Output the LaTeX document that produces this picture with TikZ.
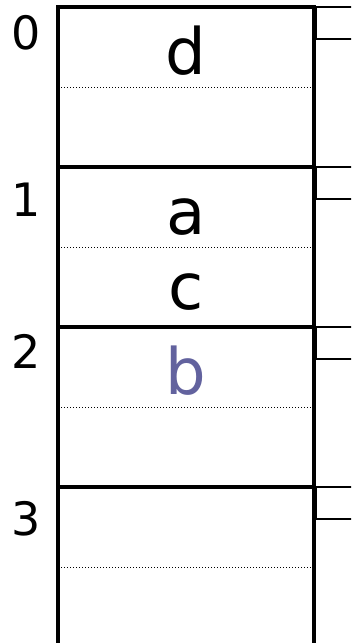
\documentclass[tikz,border=0pt]{standalone}
\usepackage{fontspec}
\setmainfont{DejaVu Sans}
\definecolor{keyblue}{RGB}{98,98,158}
\tikzset{
  bucket/.style={line width=4pt},
  slotline/.style={dotted, line width=1pt},
  link/.style={line width=1.3pt},
  key/.style={anchor=base, inner sep=0pt, font=\fontsize{64}{64}\selectfont},
  index/.style={anchor=base, inner sep=0pt, font=\fontsize{46}{46}\selectfont}
}
\begin{document}
\begin{tikzpicture}[x=1pt,y=-1pt]
    \useasboundingbox (0,0) rectangle (351,643);
    \clip (0,0) rectangle (351,643);

    % buckets
    \foreach \i in {0,1,2,3} {
        \coordinate (T\i) at (58,{7+160*\i});
        \coordinate (S\i) at (61,{87+160*\i});
        \draw[bucket] (T\i) rectangle ++(256,160);
        \draw[slotline] (S\i) -- ++(251,0);
        \draw[link] (316,{7+160*\i}) -- (352,{7+160*\i});
        \draw[link] (316,{7+160*\i}) -- (316,{39+160*\i}) -- (352,{39+160*\i});
    }

    % indices
    \node[index] (n0) at (26,49) {0};
    \node[index] (n1) at (26,216) {1};
    \node[index] (n2) at (26,368) {2};
    \node[index] (n3) at (26,535) {3};

    % keys
    \node[key] (d) at (186,74) {d};
    \node[key] (a) at (186,234) {a};
    \node[key] (c) at (186,309) {c};
    \node[key, text=keyblue] (b) at (186,394) {b};
\end{tikzpicture}
\end{document}
